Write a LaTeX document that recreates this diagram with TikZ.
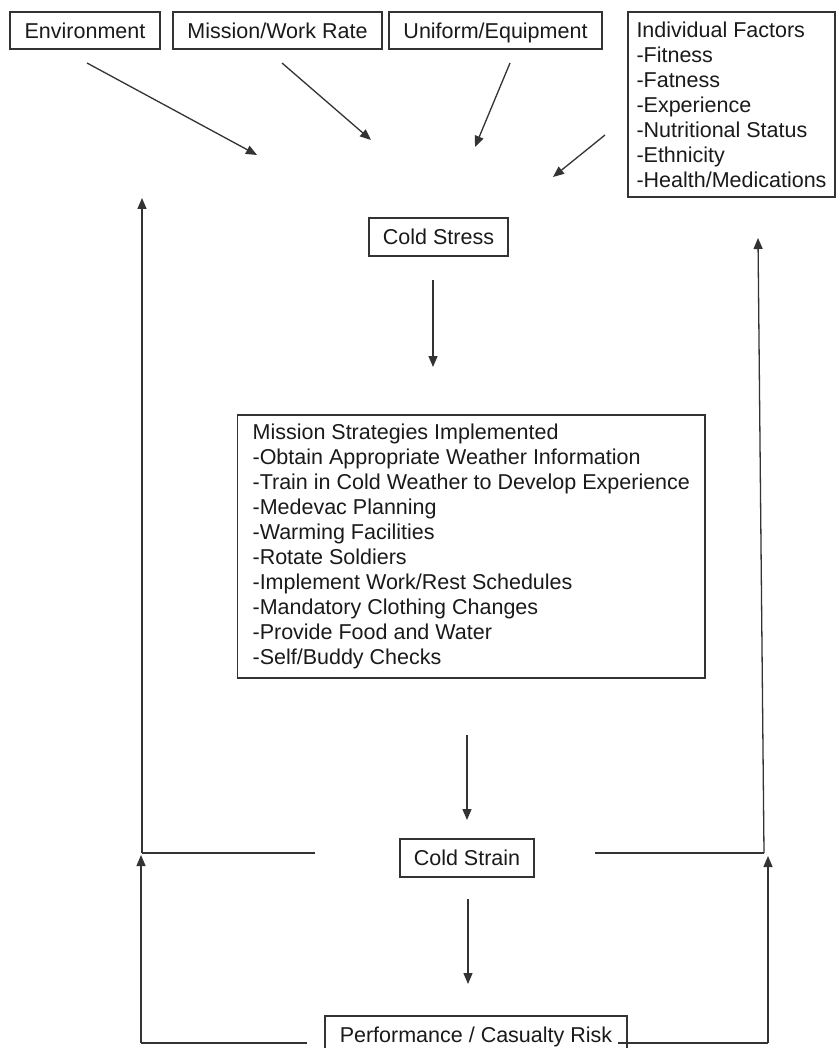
\documentclass[tikz,border=0pt]{standalone}
\usepackage{fontspec}
\setmainfont{Liberation Sans}
\usetikzlibrary{arrows.meta}
\definecolor{linec}{HTML}{333333}
\definecolor{txt}{HTML}{1A1A1A}
\begin{document}
\begin{tikzpicture}[x=1pt,y=-1pt,
  box/.style={draw=linec, line width=1.2pt, inner xsep=12pt, inner ysep=0pt, text=txt,
              font=\fontsize{21.5}{25}\selectfont},
  onebox/.style={box, text height=19pt, text depth=3.5pt},
  arr/.style={draw=linec, line width=1.3pt, -{Triangle[length=11pt,width=9pt]}},
  ln/.style={draw=linec, line width=1.3pt}]
\useasboundingbox (0,0) rectangle (836,1048);
\clip (0,0) rectangle (836,1048);
\fill[white] (0,0) rectangle (836,1048);

% top boxes
\node[onebox, minimum width=150pt, minimum height=37pt] (env) at (85,30.5) {Environment};
\node[onebox, minimum width=209pt, minimum height=37pt] (mis) at (277.5,30.5) {Mission/Work Rate};
\node[onebox, minimum width=213pt, minimum height=37pt] (uni) at (495.5,30.5) {Uniform/Equipment};
\node[box, minimum width=207pt, minimum height=185pt, align=left, inner xsep=7pt] (ind) at (731.5,104.5)
  {Individual Factors\\-Fitness\\-Fatness\\-Experience\\-Nutritional Status\\-Ethnicity\\-Health/Medications};

% middle
\node[onebox, minimum width=139pt, minimum height=38pt] (cstress) at (438.5,237) {Cold Stress};
\node[box, anchor=west, minimum height=263pt, align=left, inner xsep=15pt] (strat) at (237,546.5)
  {Mission Strategies Implemented\\-Obtain Appropriate Weather Information\\-Train in Cold Weather to Develop Experience\\-Medevac Planning\\-Warming Facilities\\-Rotate Soldiers\\-Implement Work/Rest Schedules\\-Mandatory Clothing Changes\\-Provide Food and Water\\-Self/Buddy Checks};
\node[onebox, minimum width=134pt, minimum height=38pt] (cstrain) at (467,858) {Cold Strain};
\node[onebox, minimum width=302pt, minimum height=38pt] (perf) at (476,1035) {Performance / Casualty Risk};

% free ends of the connectors
\coordinate (e1) at (87,63);   \coordinate (e2) at (257,155);
\coordinate (m1) at (282,63);  \coordinate (m2) at (371,140);
\coordinate (u1) at (510,63);  \coordinate (u2) at (475,147);
\coordinate (i1) at (605,135); \coordinate (i2) at (553,177);
\coordinate (s1) at (433,280); \coordinate (s2) at (433,367);
\coordinate (t1) at (467,735); \coordinate (t2) at (467,820);
\coordinate (c1) at (468,899); \coordinate (c2) at (468,984);
\coordinate (lh) at (315,853); \coordinate (lc) at (142,853); \coordinate (ltop) at (142,198);
\coordinate (lb) at (307,1043); \coordinate (lbc) at (141,1043); \coordinate (lbt) at (141,855);
\coordinate (rh) at (595,853); \coordinate (rc) at (764,853); \coordinate (rtop) at (758,238);
\coordinate (rb) at (618,1043); \coordinate (rbc) at (768,1043); \coordinate (rbt) at (768,856);

\draw[arr] (e1) -- (e2);
\draw[arr] (m1) -- (m2);
\draw[arr] (u1) -- (u2);
\draw[arr] (i1) -- (i2);
\draw[arr] (s1) -- (s2);
\draw[arr] (t1) -- (t2);
\draw[arr] (c1) -- (c2);

\draw[ln] (lh) -- (lc);
\draw[arr] (lc) -- (ltop);
\draw[ln] (lb) -- (lbc);
\draw[arr] (lbc) -- (lbt);
\draw[ln] (rh) -- (rc);
\draw[arr] (rc) -- (rtop);
\draw[ln] (rb) -- (rbc);
\draw[arr] (rbc) -- (rbt);
\end{tikzpicture}
\end{document}
